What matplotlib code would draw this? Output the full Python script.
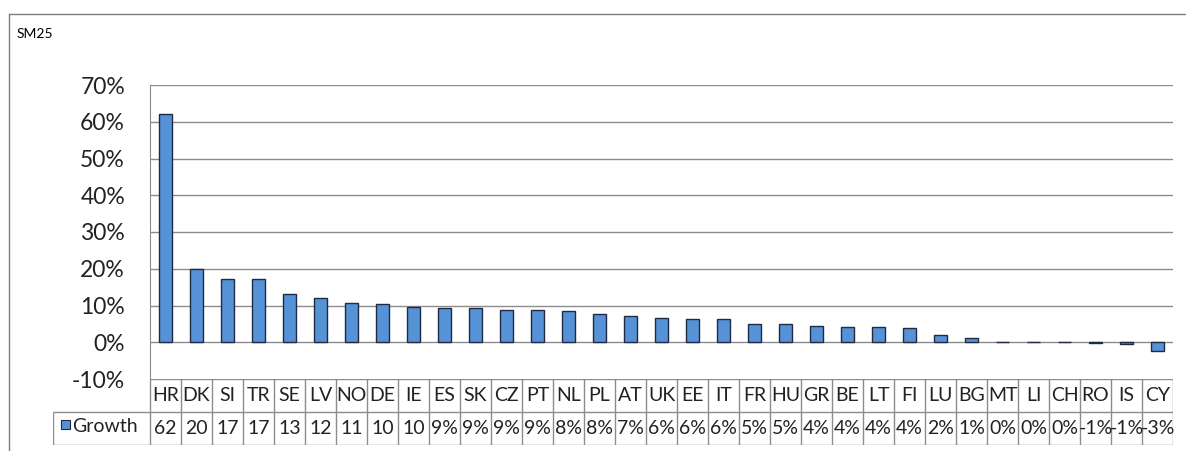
import matplotlib.pyplot as plt
from matplotlib.lines import Line2D
from matplotlib.patches import Rectangle

plt.rcParams['font.family'] = ['Lato', 'DejaVu Sans']

# data
countries = ['HR', 'DK', 'SI', 'TR', 'SE', 'LV', 'NO', 'DE', 'IE', 'ES', 'SK',
             'CZ', 'PT', 'NL', 'PL', 'AT', 'UK', 'EE', 'IT', 'FR', 'HU', 'GR',
             'BE', 'LT', 'FI', 'LU', 'BG', 'MT', 'LI', 'CH', 'RO', 'IS', 'CY']
growth = [62.1, 19.9, 17.2, 17.2, 13.1, 12.0, 10.7, 10.3, 9.6, 9.2, 9.2,
          8.9, 8.9, 8.5, 7.6, 7.2, 6.5, 6.2, 6.2, 4.9, 4.9, 4.5,
          4.2, 4.2, 3.8, 2.1, 1.1, 0.0, 0.0, 0.0, -0.3, -0.6, -2.5]
# text as shown in the data table (narrow cells cut the first ones)
table_text = ['62', '20', '17', '17', '13', '12', '11', '10', '10', '9%', '9%',
              '9%', '9%', '8%', '8%', '7%', '6%', '6%', '6%', '5%', '5%', '4%',
              '4%', '4%', '4%', '2%', '1%', '0%', '0%', '0%', '-1%', '-1%', '-3%']
yticks = [-10, 0, 10, 20, 30, 40, 50, 60, 70]

W, H = 1186, 451
bar_color = '#5592D6'
edge_color = '#1F2A44'
grid_color = '#8C8C8C'

fig = plt.figure(figsize=(W / 100, H / 100), dpi=100)

# outer chart frame: only top and left edges are inside the picture
fig.add_artist(Line2D([9 / W, 1.0], [1 - 14 / H, 1 - 14 / H],
                      transform=fig.transFigure, color='#7F7F7F', linewidth=1.0))
fig.add_artist(Line2D([9 / W, 9 / W], [0.0, 1 - 14 / H],
                      transform=fig.transFigure, color='#7F7F7F', linewidth=1.0))
fig.text(17 / W, 1 - 34 / H, 'SM25', fontsize=10, va='center', ha='left')

# plot area
ax = fig.add_axes([150 / W, 1 - 379 / H, 1023 / W, 294 / H])
x = list(range(len(countries)))
ax.bar(x, growth, width=0.4, color=bar_color, edgecolor=edge_color,
       linewidth=1.0, zorder=3)
ax.set_xlim(-0.5, len(countries) - 0.5)
ax.set_ylim(-10, 70)
ax.set_yticks(yticks)
ax.set_yticklabels([f'{t}%' for t in yticks], fontsize=16.5, color='#222222')
ax.tick_params(axis='y', length=0, pad=18)
ax.set_xticks([])
for t in yticks[1:]:
    ax.axhline(t, color=grid_color, linewidth=1.0, zorder=1)
for s in ['top', 'right', 'bottom']:
    ax.spines[s].set_visible(False)
ax.spines['left'].set_color(grid_color)

# data table under the plot
label_w = 97 / 31
tab = fig.add_axes([53 / W, 1 - 445 / H, 1120 / W, 66 / H])
tab.set_xlim(-0.5 - label_w, len(countries) - 0.5)
tab.set_ylim(0, 2)
tab.axis('off')
n = len(countries)
tab.hlines(2, -0.5, n - 0.5, color=grid_color, linewidth=1.0)
tab.hlines([0, 1], -0.5 - label_w, n - 0.5, color=grid_color, linewidth=1.0)
tab.vlines([i - 0.5 for i in range(n + 1)], 0, 2, color=grid_color, linewidth=1.0)
tab.vlines(-0.5 - label_w, 0, 1, color=grid_color, linewidth=1.0)
for i, (c, v) in enumerate(zip(countries, table_text)):
    tab.text(i, 1.5, c, ha='center', va='center', fontsize=14, color='#222222')
    tab.text(i, 0.5, v, ha='center', va='center', fontsize=14, color='#222222')

# legend key + series name
fig.patches.append(Rectangle((61 / W, 1 - 429 / H), 9 / W, 9 / H,
                             transform=fig.transFigure, facecolor=bar_color,
                             edgecolor=edge_color, linewidth=0.8))
fig.text(72 / W, 1 - 426 / H, 'Growth', fontsize=14, va='center', ha='left',
         color='#222222')

plt.savefig('out.png', dpi=100)
